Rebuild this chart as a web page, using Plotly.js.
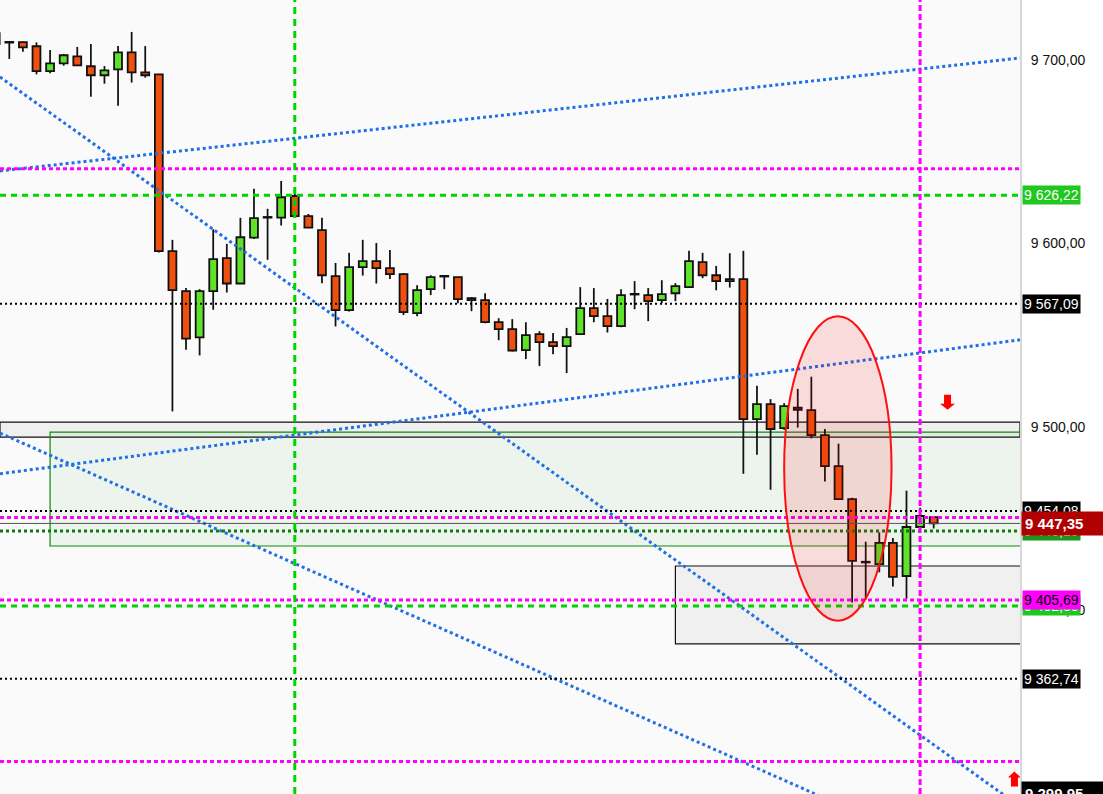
<!DOCTYPE html>
<html><head><meta charset="utf-8">
<script src="https://cdn.plot.ly/plotly-3.0.1.min.js"></script>
<style>html,body{margin:0;padding:0;background:#fff;}#chart{width:1103px;height:794px;}</style>
</head><body><div id="chart"></div>
<script>
// ---- candle data (bar index, OHLC) ----
const idx = [0,1,2,3,4,5,6,7,8,9,10,11,12,13,14,15,16,17,18,19,20,21,22,23,24,25,26,27,28,29,30,31,32,33,34,35,36,37,38,39,40,41,42,43,44,45,46,47,48,49,50,51,52,53,54,55,56,57,58,59,60,61,62,63,64,65,66,67,68,69];
const open = [9714.5,9709.5,9709.6,9707.4,9693.8,9698.1,9701.9,9696.5,9691.6,9694.8,9704.1,9693.2,9692.1,9595.7,9573.9,9548.7,9573.9,9591.9,9578.1,9603.1,9614.0,9614.0,9625.8,9614.8,9607.2,9582.1,9563.6,9587.0,9590.3,9586.5,9583.2,9562.0,9575.0,9581.9,9581.6,9570.1,9569.0,9557.0,9553.2,9541.8,9550.5,9546.2,9544.0,9550.5,9564.7,9560.3,9554.9,9572.1,9571.8,9569.0,9572.8,9576.1,9589.7,9582.6,9579.4,9580.5,9504.2,9512.4,9499.3,9510.5,9509.1,9495.5,9478.6,9460.6,9426.1,9425.2,9436.7,9418.7,9445.4,9450.8];
const high = [9716.0,9709.9,9709.9,9709.5,9705.4,9703.2,9707.0,9708.6,9696.6,9707.5,9715.2,9707.5,9692.3,9601.9,9575.6,9575.0,9607.7,9599.7,9613.9,9629.7,9618.8,9634.0,9629.1,9616.0,9613.9,9589.3,9594.8,9601.9,9600.2,9596.4,9583.7,9577.2,9582.6,9582.6,9581.6,9570.7,9572.8,9559.2,9558.7,9557.0,9552.1,9551.1,9553.9,9576.1,9575.6,9569.7,9575.0,9579.4,9575.6,9579.9,9578.3,9595.9,9594.8,9587.7,9594.6,9595.9,9522.4,9515.1,9512.9,9520.7,9527.3,9498.8,9490.8,9461.4,9437.4,9442.5,9439.4,9465.2,9455.9,9450.8];
const low = [9706.0,9700.5,9704.4,9692.1,9692.7,9696.8,9697.0,9679.9,9687.0,9675.0,9687.6,9690.3,9595.0,9508.4,9542.0,9538.9,9563.8,9573.2,9578.0,9602.4,9591.0,9609.7,9614.7,9608.5,9578.3,9554.7,9562.8,9582.4,9578.1,9580.5,9560.9,9560.3,9571.8,9575.0,9567.4,9563.0,9556.5,9547.2,9541.0,9536.9,9533.1,9539.6,9529.3,9550.5,9557.0,9551.4,9554.3,9564.1,9557.6,9567.4,9568.5,9576.1,9581.0,9574.4,9575.9,9474.4,9484.8,9465.7,9498.4,9499.6,9493.7,9470.2,9460.3,9404.3,9405.8,9420.7,9413.0,9406.3,9442.1,9444.6];
const close = [9708.5,9709.4,9706.8,9693.8,9698.1,9702.5,9697.0,9691.6,9694.3,9704.1,9693.2,9691.6,9595.7,9574.5,9548.1,9573.9,9591.4,9578.1,9603.3,9613.7,9614.0,9625.1,9614.8,9608.6,9582.6,9563.6,9587.0,9590.3,9586.5,9583.2,9562.5,9574.5,9581.6,9581.9,9569.6,9569.0,9557.0,9553.2,9541.6,9550.0,9546.2,9544.0,9548.9,9564.7,9560.3,9554.9,9571.8,9572.1,9568.5,9572.3,9576.7,9590.3,9582.6,9579.4,9580.5,9504.2,9512.4,9498.8,9511.3,9509.3,9495.5,9478.6,9460.6,9426.9,9426.1,9436.7,9418.2,9445.4,9451.4,9447.35];

// ---- axis ----
const yTicks = [9400, 9500, 9600, 9700];

// ---- horizontal levels ----
const magentaLevels = [9640.7, 9450.61, 9405.69, 9317.56];
const greenDashLevels = [9626.22, 9402.30];
const blackDotLevels = [9567.09, 9454.08, 9362.74];
const darkGreenDotLevels = [9443.2];
const lastPrice = 9447.35;

// ---- vertical markers (bar index) ----
const greenVLines = [22];
const magentaVLines = [68];

// ---- zones ----
const bandZoneY = [9494.41, 9502.58];
const greenZoneX = [4, 76];  const greenZoneY = [9435.04, 9497.13];
const grayZoneX = [50, 76];  const grayZoneY = [9381.66, 9424.15];
const ellipseX = [58.0, 65.9]; const ellipseY = [9394.35, 9560.2];

// ---- trend lines (bar index, price) ----
const trendX = [[0.316, 75.35], [0.316, 75.35], [0.316, 75.35], [0.316, 62]];
const trendY = [[9639.45, 9701.0], [9474.42, 9547.41], [9690.65, 9293.1], [9496.59, 9294.3]];

// ---- arrows ----
const downArrow = {x: 70.02, y: 9509.28};
const upArrow = {x: 74.94, y: 9312.1};

// ---- right price labels ----
const priceLabels = [
  {v: 9626.22, bg: '#1ec81e', fc: '#ffffff'},
  {v: 9567.09, bg: '#000000', fc: '#ffffff'},
  {v: 9454.08, bg: '#000000', fc: '#ffffff'},
  {v: 9443.19, bg: '#1e961e', fc: '#ffffff'},
  {v: 9402.30, bg: '#1ec81e', fc: '#ffffff'},
  {v: 9405.69, bg: '#ff00ff', fc: '#000000'},
  {v: 9362.74, bg: '#000000', fc: '#ffffff'}
];
const bigLabels = [
  {v: 9447.35, bg: '#b00000', fc: '#ffffff'},
  {v: 9299.95, bg: '#000000', fc: '#ffffff'}
];

const fmt = v => {
  const s = v.toFixed(2).split('.');
  return s[0].replace(/\B(?=(\d{3})+(?!\d))/g, ' ') + ',' + s[1];
};

const UP = '#5ee22a', DOWN = '#f0500f';
const bodyBase = idx.map(i => Math.min(open[i], close[i]));
const bodyLen = idx.map(i => Math.max(Math.abs(close[i] - open[i]), 0.35));
const bodyColor = idx.map(i => close[i] >= open[i] ? UP : DOWN);
const wickLen = idx.map(i => high[i] - low[i]);

const traces = [];
traces.push({type: 'bar', x: idx, base: low, y: wickLen, width: 0.13,
  marker: {color: '#111111', line: {width: 0}}, hoverinfo: 'skip', showlegend: false});
traces.push({type: 'bar', x: idx, base: bodyBase, y: bodyLen, width: 0.58,
  marker: {color: bodyColor, line: {color: '#111111', width: 1.8}}, hoverinfo: 'skip', showlegend: false});
for (let i = 0; i < trendX.length; i++) {
  traces.push({type: 'scatter', mode: 'lines', x: trendX[i], y: trendY[i],
    line: {color: '#1f6fe6', width: 3, dash: '3px,3px'}, hoverinfo: 'skip', showlegend: false});
}

const shapes = [];
shapes.push({type: 'rect', xref: 'paper', x0: 0, x1: 1, yref: 'y', y0: bandZoneY[0], y1: bandZoneY[1],
  fillcolor: '#f0f0f0', line: {color: '#111', width: 1.2}, layer: 'below'});
shapes.push({type: 'rect', xref: 'x', x0: greenZoneX[0], x1: greenZoneX[1], yref: 'y', y0: greenZoneY[0], y1: greenZoneY[1],
  fillcolor: 'rgba(0,128,0,0.05)', line: {color: '#0a8a0a', width: 1.2}, layer: 'below'});
shapes.push({type: 'rect', xref: 'x', x0: grayZoneX[0], x1: grayZoneX[1], yref: 'y', y0: grayZoneY[0], y1: grayZoneY[1],
  fillcolor: '#f0f0f0', line: {color: '#111', width: 1.2}, layer: 'below'});
const hline = (y, color, width, dash) => ({type: 'line', xref: 'paper', x0: 0, x1: 1, yref: 'y', y0: y, y1: y,
  line: {color: color, width: width, dash: dash}, layer: 'above'});
shapes.push(hline(lastPrice, '#555555', 1, 'solid'));
blackDotLevels.forEach(v => shapes.push(hline(v, '#000000', 2, '2px,3px')));
darkGreenDotLevels.forEach(v => shapes.push(hline(v, '#0a7d0a', 3, '3px,3px')));
greenDashLevels.forEach(v => shapes.push(hline(v, '#00d400', 3, '6px,5px')));
magentaLevels.forEach(v => shapes.push(hline(v, '#ff00ff', 3, '4px,3px')));
greenVLines.forEach(x => shapes.push({type: 'line', xref: 'x', x0: x, x1: x, yref: 'paper', y0: 0, y1: 1,
  line: {color: '#00d400', width: 3, dash: '7px,5px'}, layer: 'above'}));
magentaVLines.forEach(x => shapes.push({type: 'line', xref: 'x', x0: x, x1: x, yref: 'paper', y0: 0, y1: 1,
  line: {color: '#ff00ff', width: 3, dash: '6px,3px'}, layer: 'above'}));
shapes.push({type: 'circle', xref: 'x', x0: ellipseX[0], x1: ellipseX[1], yref: 'y', y0: ellipseY[0], y1: ellipseY[1],
  fillcolor: 'rgba(255,0,0,0.12)', line: {color: '#ff1010', width: 2}, layer: 'above'});
shapes.push({type: 'path', xref: 'x', yref: 'y', xsizemode: 'pixel', ysizemode: 'pixel',
  xanchor: downArrow.x, yanchor: downArrow.y,
  path: 'M -3.5 15 L 3.5 15 L 3.5 6 L 7.5 6 L 0 0 L -7.5 6 L -3.5 6 Z',
  fillcolor: '#ff0000', line: {width: 0}, layer: 'above'});
shapes.push({type: 'path', xref: 'x', yref: 'y', xsizemode: 'pixel', ysizemode: 'pixel',
  xanchor: upArrow.x, yanchor: upArrow.y,
  path: 'M -3.5 -15 L 3.5 -15 L 3.5 -6 L 6.5 -6 L 0 0 L -6.5 -6 L -3.5 -6 Z',
  fillcolor: '#ff0000', line: {width: 0}, layer: 'above'});

const annotations = [];
priceLabels.forEach(l => annotations.push({
  xref: 'paper', x: 1, xanchor: 'left', xshift: 2, yref: 'y', y: l.v, yanchor: 'middle',
  text: fmt(l.v), showarrow: false, bgcolor: l.bg, borderpad: 1,
  font: {family: 'Liberation Sans, Arial, sans-serif', size: 14, color: l.fc}
}));
bigLabels.forEach(l => annotations.push({
  xref: 'paper', x: 1, xanchor: 'left', xshift: 1, yref: 'y', y: l.v, yanchor: 'middle',
  text: '<b>' + fmt(l.v) + '</b>', showarrow: false, bgcolor: l.bg, borderpad: 3,
  width: 76, align: 'left',
  font: {family: 'Liberation Sans, Arial, sans-serif', size: 15, color: l.fc}
}));

const layout = {
  width: 1103, height: 794,
  margin: {l: 0, r: 83, t: 0, b: 0, pad: 0},
  paper_bgcolor: '#ffffff', plot_bgcolor: '#fafafa',
  separators: ', ',
  showlegend: false,
  barmode: 'overlay',
  xaxis: {range: [0.316, 75.35], visible: false, showgrid: false, zeroline: false, fixedrange: true},
  yaxis: {side: 'right', range: [9299.9, 9732.6], tickvals: yTicks, tickformat: ',.2f',
    showgrid: false, zeroline: false, showline: true, linecolor: '#d8d8d8', linewidth: 2,
    ticks: 'outside', ticklen: 6, tickcolor: 'rgba(0,0,0,0)',
    tickfont: {family: 'Liberation Sans, Arial, sans-serif', size: 14, color: '#111111'}, fixedrange: true},
  shapes: shapes,
  annotations: annotations,
  hovermode: false
};

Plotly.newPlot('chart', traces, layout, {displayModeBar: false, staticPlot: true});
</script></body></html>
